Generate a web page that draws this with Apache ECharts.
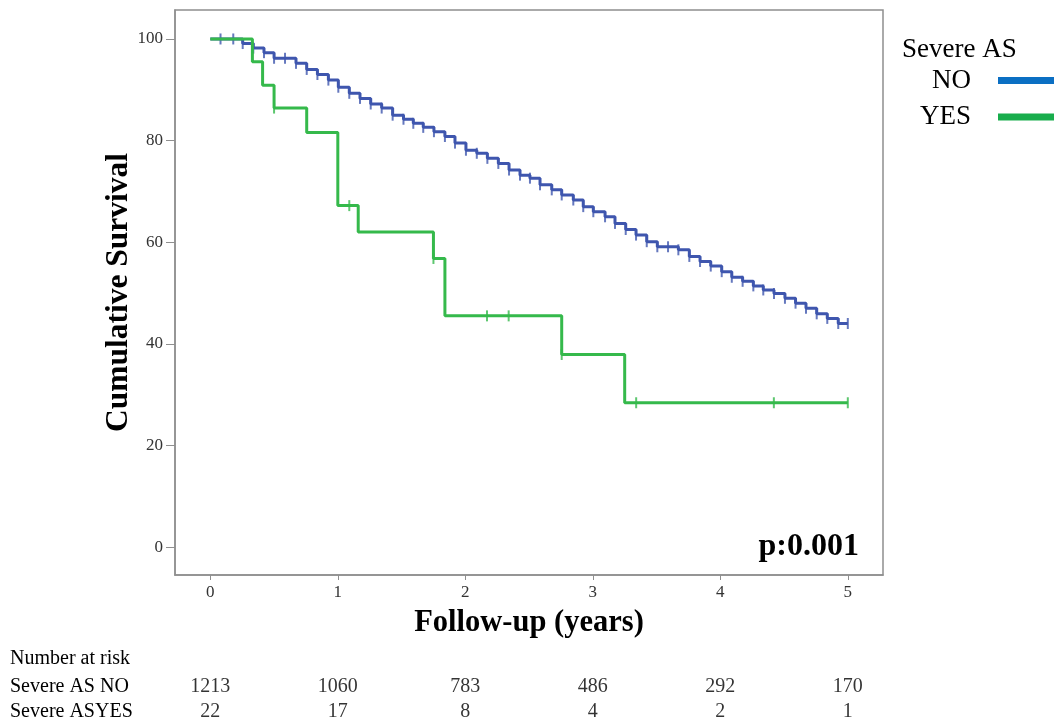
<!DOCTYPE html>
<html><head><meta charset="utf-8">
<script src="https://cdn.jsdelivr.net/npm/echarts@6/dist/echarts.min.js"></script>
<style>html,body{margin:0;padding:0;background:#fff}#c{width:1059px;height:726px}</style>
</head><body><div id="c"></div>
<script>
// ---- data ----
const xTicks = [0, 1, 2, 3, 4, 5];
const yTicks = [0, 20, 40, 60, 80, 100];

// Severe AS = NO : Kaplan-Meier steps (time in years, survival %)
const noTime = [0, 0.254, 0.337, 0.421, 0.50, 0.672, 0.756, 0.84, 0.926, 1.004, 1.09, 1.174, 1.258, 1.344, 1.43, 1.515, 1.592, 1.67, 1.754, 1.84, 1.919, 2.005, 2.09, 2.173, 2.259, 2.343, 2.429, 2.507, 2.586, 2.678, 2.756, 2.847, 2.925, 3.004, 3.096, 3.174, 3.258, 3.339, 3.423, 3.506, 3.671, 3.757, 3.841, 3.925, 4.011, 4.09, 4.175, 4.259, 4.337, 4.421, 4.507, 4.59, 4.672, 4.756, 4.839, 4.925, 5.0];
const noSurv = [100, 99.1, 98.2, 97.3, 96.2, 95.2, 94.0, 93.0, 91.9, 90.5, 89.3, 88.3, 87.2, 86.4, 85.0, 84.2, 83.4, 82.6, 81.75, 80.8, 79.5, 78.1, 77.5, 76.5, 75.5, 74.2, 73.2, 72.6, 71.3, 70.3, 69.3, 68.3, 67.0, 66.0, 65.0, 63.7, 62.5, 61.4, 60.1, 59.1, 58.5, 57.2, 56.2, 55.3, 54.2, 53.1, 52.3, 51.4, 50.6, 49.9, 48.96, 48.0, 47.0, 45.9, 45.0, 44.0, 44.0];
// extra censor marks on flat parts
const noCensorTime = [0.08, 0.18, 0.586, 3.59];
const noCensorSurv = [100, 100, 96.2, 59.1];

// Severe AS = YES
const yesTime = [0, 0.33, 0.41, 0.50, 0.756, 1.0, 1.16, 1.75, 1.84, 2.756, 3.25, 5.0];
const yesSurv = [100, 95.5, 90.9, 86.4, 81.6, 67.2, 62.0, 56.8, 45.5, 37.9, 28.4, 28.4];
const yesCensorTime = [0.50, 1.09, 1.75, 2.17, 2.34, 2.756, 3.34, 4.42, 5.0];
const yesCensorSurv = [86.4, 67.2, 56.8, 45.5, 45.5, 37.9, 28.4, 28.4, 28.4];

// number at risk table
const riskTimes = [0, 1, 2, 3, 4, 5];
const riskNo = [1213, 1060, 783, 486, 292, 170];
const riskYes = [22, 17, 8, 4, 2, 1];
const riskRows = ['Severe AS NO', 'Severe ASYES'];

// ---- chart ----
const SERIF = "'Liberation Serif','Times New Roman',serif";
const BLUE = '#3f56ae', GREEN = '#35b94b';
const FRAME = '#8f8f8f';

const zip = (a, b) => a.map((v, i) => [v, b[i]]);
const noTicks = zip(noTime.slice(1, -1), noSurv.slice(1, -1)).concat(zip(noCensorTime, noCensorSurv)).concat([[noTime[noTime.length-1], noSurv[noSurv.length-1]]]);

const chart = echarts.init(document.getElementById('c'), null, {renderer: 'canvas'});
chart.setOption({
  animation: false,
  backgroundColor: '#fff',
  grid: [
    {left: 175, top: 10, width: 708, height: 565, show: true, borderColor: FRAME, borderWidth: 1.5, backgroundColor: 'transparent'},
    {left: 175, top: 674, width: 708, height: 50, show: false}
  ],
  xAxis: [
    {type: 'value', gridIndex: 0, min: -0.277, max: 5.276,
     name: 'Follow-up (years)', nameLocation: 'middle', nameGap: 33,
     nameTextStyle: {fontFamily: SERIF, fontWeight: 'bold', fontSize: 30.5, color: '#000'},
     axisLine: {show: true, onZero: false, lineStyle: {color: FRAME, width: 1.5}},
     axisTick: {show: true, customValues: xTicks, length: 5, lineStyle: {color: FRAME}},
     axisLabel: {customValues: xTicks, fontFamily: SERIF, fontSize: 17, color: '#333', margin: 9},
     splitLine: {show: false}},
    {type: 'value', gridIndex: 1, min: -0.277, max: 5.276, show: false}
  ],
  yAxis: [
    {type: 'value', gridIndex: 0, min: -5.5, max: 105.7,
     name: 'Cumulative Survival', nameLocation: 'middle', nameGap: 40, nameMoveOverlap: false,
     nameTextStyle: {fontFamily: SERIF, fontWeight: 'bold', fontSize: 31.5, color: '#000'},
     axisLine: {show: true, onZero: false, lineStyle: {color: FRAME, width: 1.5}},
     axisTick: {show: true, customValues: yTicks, length: 9, lineStyle: {color: FRAME}},
     axisLabel: {customValues: yTicks, fontFamily: SERIF, fontSize: 17, color: '#333', margin: 12},
     splitLine: {show: false}},
    {type: 'category', gridIndex: 1, data: riskRows, inverse: true,
     axisLine: {show: false}, axisTick: {show: false},
     axisLabel: {interval: 0, align: 'left', margin: 165, fontFamily: SERIF, fontSize: 20, color: '#000'}}
  ],
  legend: {
    orient: 'vertical', left: 915, top: 62, align: 'right',
    itemWidth: 56, itemHeight: 7, itemGap: 9.5,
    textStyle: {fontFamily: SERIF, fontSize: 27, color: '#000', padding: [0, 22, 0, 0]},
    data: [
      {name: 'NO', icon: 'rect', itemStyle: {color: '#0b6fc3'}},
      {name: 'YES', icon: 'rect', itemStyle: {color: '#18ad4c'}}
    ]
  },
  graphic: [
    {type: 'text', left: 902, top: 36, style: {text: 'Severe AS', font: '27px ' + SERIF, fill: '#000'}},
    {type: 'text', right: 1059 - 859, top: 531, style: {text: 'p:0.001', font: 'bold 32px ' + SERIF, fill: '#000'}},
    {type: 'text', left: 10, top: 649, style: {text: 'Number at risk', font: '20px ' + SERIF, fill: '#000'}}
  ],
  series: [
    {name: 'NO', type: 'line', step: 'end', xAxisIndex: 0, yAxisIndex: 0, showSymbol: false,
     data: zip(noTime, noSurv), lineStyle: {color: BLUE, width: 3}, itemStyle: {color: BLUE}, z: 2},
    {name: 'NO censored', type: 'scatter', xAxisIndex: 0, yAxisIndex: 0, symbol: 'rect', symbolSize: [2, 11],
     data: noTicks, itemStyle: {color: BLUE}, z: 2},
    {name: 'YES', type: 'line', step: 'end', xAxisIndex: 0, yAxisIndex: 0, showSymbol: false,
     data: zip(yesTime, yesSurv), lineStyle: {color: GREEN, width: 3}, itemStyle: {color: GREEN}, z: 3},
    {name: 'YES censored', type: 'scatter', xAxisIndex: 0, yAxisIndex: 0, symbol: 'rect', symbolSize: [2, 11],
     data: zip(yesCensorTime, yesCensorSurv), itemStyle: {color: GREEN}, z: 3},
    {name: 'risk', type: 'scatter', xAxisIndex: 1, yAxisIndex: 1, symbolSize: 0,
     data: riskTimes.map((t, i) => [t, riskRows[0], riskNo[i]]).concat(riskTimes.map((t, i) => [t, riskRows[1], riskYes[i]])),
     label: {show: true, position: 'inside', formatter: p => String(p.value[2]), fontFamily: SERIF, fontSize: 20, color: '#000', textBorderWidth: 0}}
  ]
});
</script>
</body></html>
